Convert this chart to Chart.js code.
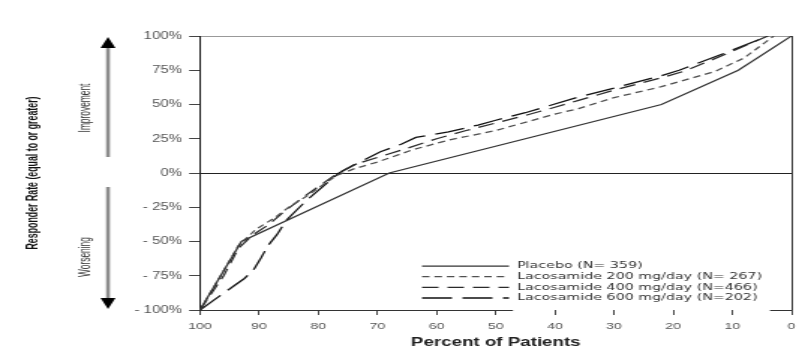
<!DOCTYPE html>
<html><head><meta charset="utf-8">
<script src="https://cdn.jsdelivr.net/npm/chart.js@4"></script>
<style>
html,body{margin:0;padding:0;background:#fff;overflow:hidden;}
#wrap{position:absolute;left:0;top:0;width:539px;height:363px;transform:scaleX(1.49907);transform-origin:0 0;}
</style></head><body>
<div id="wrap"><canvas id="c"></canvas></div>
<script>
// ---- data ----
const xTickValues = [100, 90, 80, 70, 60, 50, 40, 30, 20, 10, 0];
const yTickValues = [-100, -75, -50, -25, 0, 25, 50, 75, 100];
const yTickLabels = ['- 100%', '- 75%', '- 50%', '- 25%', '0%', '25%', '50%', '75%', '100%'];
const seriesLabels = ['Placebo (N= 359)', 'Lacosamide 200 mg/day (N= 267)', 'Lacosamide 400 mg/day (N=466)', 'Lacosamide 600 mg/day (N=202)'];
const xTitle = 'Percent of Patients';
const yTitle = 'Responder Rate (equal to or greater)';
const upLabel = 'Improvement';
const downLabel = 'Worsening';

const placeboX = [100, 93, 68, 22, 9, 0];
const placeboY = [-100, -50, 0, 50, 75, 100];

const lcm200X = [100, 96.5, 93.5, 90.5, 87.5, 85, 82, 80, 77, 74, 70, 64, 58, 50, 40, 36, 30, 22, 13, 8, 3];
const lcm200Y = [-100, -75, -53, -41, -33, -25, -17, -11, -2, 3, 8, 17, 24, 31, 43, 47, 55, 63, 74, 84, 100];

const lcm400X = [100, 96, 93.5, 91, 88.5, 86, 83, 80, 77, 74, 69.5, 65, 60, 55, 50, 45, 40, 36, 30, 22, 18, 11, 4];
const lcm400Y = [-100, -75, -55, -45, -38, -29, -19, -10, -1, 6, 12, 18, 25, 31, 36.5, 42, 48, 53, 60.5, 69.5, 74.5, 87, 100];

const lcm600X = [100, 92.5, 91, 89.7, 88.5, 87, 85.3, 82, 79, 76.5, 73, 69.5, 66, 63.5, 58, 53, 50, 45, 36, 30, 22, 19, 11, 4];
const lcm600Y = [-100, -77, -71, -62, -53, -45, -34, -20, -9, 0, 8, 15.5, 21, 26, 30, 35, 38.5, 44, 55.5, 62, 71, 75, 88, 100];

// ---- helpers ----
const S = 808 / 539;
const ux = v => v / S;
const zip = (xs, ys) => xs.map((x, i) => ({x: x, y: ys[i]}));

function rotText(ctx, txt, x, y, font, color, sx) {
  ctx.save();
  ctx.translate(x, y);
  ctx.scale(sx || 1, 1);
  ctx.rotate(-Math.PI / 2);
  ctx.font = font;
  ctx.fillStyle = color;
  ctx.textAlign = 'center';
  ctx.textBaseline = 'middle';
  ctx.fillText(txt, 0, 0);
  ctx.restore();
}

const extras = {
  id: 'extras',
  afterDraw(chart) {
    const ctx = chart.ctx, ca = chart.chartArea;
    ctx.save();
    // bottom axis line (partly hidden behind legend box)
    ctx.strokeStyle = '#333'; ctx.lineWidth = 1;
    const yb = Math.round(ca.bottom) + 0.5;
    ctx.beginPath();
    ctx.moveTo(ca.left, yb); ctx.lineTo(ux(513), yb);
    ctx.moveTo(ux(770), yb); ctx.lineTo(ca.right, yb);
    ctx.stroke();

    // y title
    rotText(ctx, yTitle, ux(33), 173, 'bold 8.8px "Liberation Sans", Arial, sans-serif', '#111', 1.3);
    // arrows
    const ax = ux(108);
    ctx.strokeStyle = '#8c8c8c'; ctx.lineWidth = 2.6;
    ctx.beginPath();
    ctx.moveTo(ax, 47); ctx.lineTo(ax, 157);
    ctx.moveTo(ax, 187); ctx.lineTo(ax, 299);
    ctx.stroke();
    ctx.fillStyle = '#000';
    ctx.beginPath(); ctx.moveTo(ax, 37); ctx.lineTo(ax - 5, 48); ctx.lineTo(ax + 5, 48); ctx.closePath(); ctx.fill();
    ctx.beginPath(); ctx.moveTo(ax, 309); ctx.lineTo(ax - 5, 298); ctx.lineTo(ax + 5, 298); ctx.closePath(); ctx.fill();
    rotText(ctx, upLabel, ux(85), 108, '8.4px "Liberation Sans", Arial, sans-serif', '#333', 1.3);
    rotText(ctx, downLabel, ux(85), 257, '8.4px "Liberation Sans", Arial, sans-serif', '#333', 1.3);

    // legend
    const rows = [266, 276.7, 287.3, 298];
    chart.data.datasets.forEach((ds, i) => {
      const y = rows[i];
      ctx.save();
      ctx.strokeStyle = ds.borderColor;
      ctx.lineWidth = ds.borderWidth;
      ctx.setLineDash(ds.borderDash || []);
      ctx.beginPath();
      ctx.moveTo(ux(422), y); ctx.lineTo(ux(509), y);
      ctx.stroke();
      ctx.restore();
      ctx.font = '9.5px "DejaVu Sans", sans-serif';
      ctx.fillStyle = '#333';
      ctx.textAlign = 'left';
      ctx.textBaseline = 'middle';
      ctx.fillText(ds.label, ux(517), y);
    });
    ctx.restore();
  }
};

new Chart(document.getElementById('c'), {
  type: 'line',
  data: {
    datasets: [
      {label: seriesLabels[0], data: zip(placeboX, placeboY), borderColor: '#333', borderWidth: 1.25, borderDash: [], pointRadius: 0, tension: 0},
      {label: seriesLabels[1], data: zip(lcm200X, lcm200Y), borderColor: '#505050', borderWidth: 1.25, borderDash: [5, 3.3], pointRadius: 0, tension: 0},
      {label: seriesLabels[2], data: zip(lcm400X, lcm400Y), borderColor: '#2a2a2a', borderWidth: 1.25, borderDash: [11, 6], pointRadius: 0, tension: 0},
      {label: seriesLabels[3], data: zip(lcm600X, lcm600Y), borderColor: '#111', borderWidth: 1.3, borderDash: [20, 7], pointRadius: 0, tension: 0}
    ]
  },
  options: {
    responsive: true,
    maintainAspectRatio: false,
    animation: false,
    layout: {padding: {top: 36, right: 11, left: 0, bottom: 0}},
    plugins: {legend: {display: false}, tooltip: {enabled: false}},
    scales: {
      x: {
        type: 'linear', reverse: true, min: 0, max: 100,
        afterBuildTicks: s => { s.ticks = xTickValues.map(v => ({value: v})); },
        ticks: {autoSkip: false, maxRotation: 0, padding: 5.5, color: '#555',
          font: {family: '"Liberation Sans", Arial, sans-serif', size: 9.5},
          callback: v => String(v)},
        grid: {drawOnChartArea: true,
          color: c => (c.tick && c.tick.value === 0) ? '#333' : 'rgba(0,0,0,0)',
          tickColor: '#444', tickLength: 5, lineWidth: 1},
        border: {display: false},
        title: {display: true, text: xTitle, color: '#222',
          font: {family: '"Liberation Sans", Arial, sans-serif', size: 12.5, weight: 'bold'},
          padding: {top: 0, bottom: 12.5}},
        afterFit: s => { s.height = 53; }
      },
      y: {
        type: 'linear', min: -100, max: 100,
        afterBuildTicks: s => { s.ticks = yTickValues.map(v => ({value: v})); },
        ticks: {padding: 4.7, color: '#555',
          font: {family: '"Liberation Sans", Arial, sans-serif', size: 10},
          callback: v => yTickLabels[yTickValues.indexOf(v)]},
        grid: {drawOnChartArea: true,
          color: c => (c.tick && c.tick.value === 0) ? '#222' : ((c.tick && c.tick.value === 100) ? '#999' : 'rgba(0,0,0,0)'),
          tickColor: '#444', tickLength: 7.3, lineWidth: 1},
        border: {display: true, color: '#222', width: 1},
        afterFit: s => { s.width = ux(200); }
      }
    }
  },
  plugins: [extras]
});
</script>
</body></html>
